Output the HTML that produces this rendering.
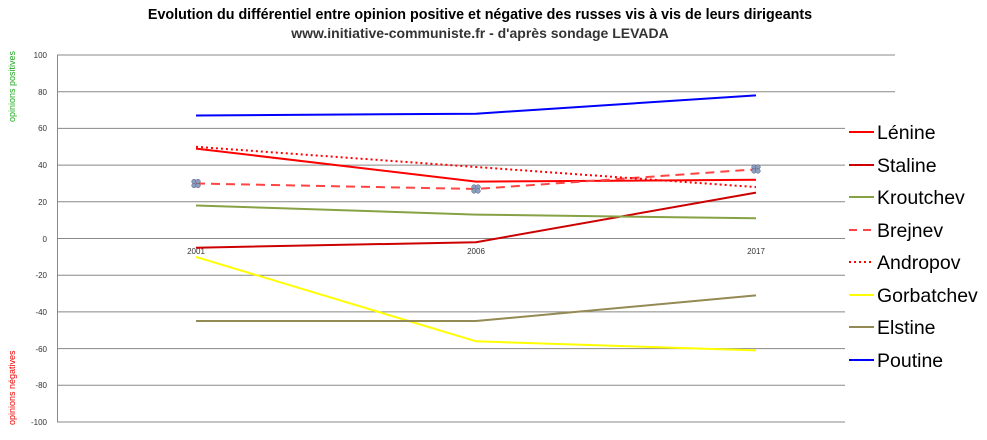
<!DOCTYPE html><html><head><style>body{margin:0;background:#fff}</style></head><body>
<svg width="987" height="435" xmlns="http://www.w3.org/2000/svg" font-family="Liberation Sans, sans-serif">
<text x="480" y="19" text-anchor="middle" font-weight="bold" font-size="14.3">Evolution du différentiel entre opinion positive et négative des russes vis à vis de leurs dirigeants</text>
<text x="480" y="38" text-anchor="middle" font-weight="bold" font-size="14" fill="#333">www.initiative-communiste.fr - d'après sondage LEVADA</text>
<g stroke="#888" stroke-width="1">
<line x1="57" y1="55" x2="895" y2="55"/><line x1="57" y1="91.7" x2="895" y2="91.7"/>
<line x1="57" y1="128.4" x2="845" y2="128.4"/><line x1="57" y1="165.1" x2="845" y2="165.1"/>
<line x1="57" y1="201.8" x2="845" y2="201.8"/><line x1="57" y1="238.5" x2="845" y2="238.5"/>
<line x1="57" y1="275.2" x2="845" y2="275.2"/><line x1="57" y1="311.9" x2="845" y2="311.9"/>
<line x1="57" y1="348.6" x2="845" y2="348.6"/><line x1="57" y1="385.3" x2="845" y2="385.3"/>
<line x1="57" y1="422" x2="845" y2="422"/><line x1="57.5" y1="55" x2="57.5" y2="422"/>
</g>
<g font-size="8" fill="#333" text-anchor="end">
<text x="47" y="58">100</text><text x="47" y="95">80</text><text x="47" y="131">60</text><text x="47" y="168">40</text><text x="47" y="205">20</text><text x="47" y="242">0</text><text x="47" y="278">-20</text><text x="47" y="315">-40</text><text x="47" y="352">-60</text><text x="47" y="388">-80</text><text x="47" y="425">-100</text>
</g>
<g font-size="8" fill="#333" text-anchor="middle"><text x="196" y="254">2001</text><text x="476" y="254">2006</text><text x="756" y="254">2017</text></g>
<text transform="translate(15,122) rotate(-90)" font-size="9" fill="#2a2">opinions  positives</text>
<text transform="translate(15,425) rotate(-90)" font-size="9" fill="#e00">opinions  négatives</text>
<g fill="none" stroke-width="2">
<polyline stroke="#00f" points="196,115.5 476,113.7 756,95.4"/>
<polyline stroke="#f00" points="196,148.6 476,181.6 756,179.8"/>
<polyline stroke="#c00" points="196,247.7 476,242.2 756,192.6"/>
<polyline stroke="#86a245" points="196,205.5 476,214.6 756,218.3"/>
<polyline stroke="#f44" stroke-dasharray="9,6" points="196,183.5 476,189 756,169.3"/>
<polyline stroke="#f00" stroke-dasharray="2,3" points="196,146.8 476,167 756,187.1"/>
<polyline stroke="#ff0" points="196,256.9 476,341.3 756,350.4"/>
<polyline stroke="#948a54" points="196,321 476,321 756,295.4"/>
</g>
<g fill="#8aa0c0" stroke="#557" stroke-width="0.5">
<g transform="translate(196,183.5)"><circle cx="-2" cy="-2" r="2.3"/><circle cx="2" cy="-2" r="2.3"/><circle cx="-2" cy="2" r="2.3"/><circle cx="2" cy="2" r="2.3"/></g>
<g transform="translate(476,189)"><circle cx="-2" cy="-2" r="2.3"/><circle cx="2" cy="-2" r="2.3"/><circle cx="-2" cy="2" r="2.3"/><circle cx="2" cy="2" r="2.3"/></g>
<g transform="translate(756,169)"><circle cx="-2" cy="-2" r="2.3"/><circle cx="2" cy="-2" r="2.3"/><circle cx="-2" cy="2" r="2.3"/><circle cx="2" cy="2" r="2.3"/></g>
</g>
<g stroke-width="2" fill="none">
<line x1="849" y1="132" x2="874" y2="132" stroke="#f00"/>
<line x1="849" y1="165" x2="874" y2="165" stroke="#c00"/>
<line x1="849" y1="197" x2="874" y2="197" stroke="#86a245"/>
<line x1="849" y1="230" x2="874" y2="230" stroke="#f44" stroke-dasharray="8,6"/>
<line x1="849" y1="262" x2="874" y2="262" stroke="#f00" stroke-dasharray="2,3"/>
<line x1="849" y1="295" x2="874" y2="295" stroke="#ff0"/>
<line x1="849" y1="327" x2="874" y2="327" stroke="#948a54"/>
<line x1="849" y1="360" x2="874" y2="360" stroke="#00f"/>
</g>
<g font-size="19.5" fill="#000">
<text x="877" y="139">Lénine</text><text x="877" y="172">Staline</text><text x="877" y="204">Kroutchev</text><text x="877" y="237">Brejnev</text><text x="877" y="269">Andropov</text><text x="877" y="302">Gorbatchev</text><text x="877" y="334">Elstine</text><text x="877" y="367">Poutine</text>
</g>
</svg></body></html>
